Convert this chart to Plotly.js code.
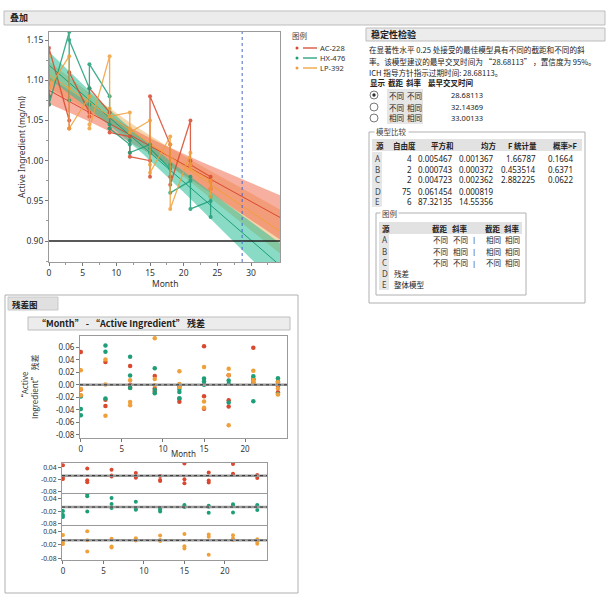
<!DOCTYPE html>
<html><head><meta charset="utf-8">
<script src="https://cdn.plot.ly/plotly-3.0.1.min.js"></script>
<style>body{margin:0;background:#fff}#c{width:608px;height:594px}</style>
</head><body><div id="c"></div>
<script>
// ---------- data ----------
const months = [0,0,0,3,3,3,6,6,6,9,9,9,12,12,12,15,15,15,18,18,18,21,21,21,24,24,24];
const batchNames = ['AC-228','HX-476','LP-392'];
const ac228 = [1.08,1.07,1.14, 1.05,1.04,1.11, 1.06,1.055,1.09, 1.06,1.04,1.035, 1.03,1.01,1.005, 1.00,0.98,1.08, 1.02,0.98,0.97, 1.05,1.00,0.995, 0.98,0.975,0.965];
const hx476 = [1.10,1.08,1.07, 1.16,1.075,1.15, 1.09,1.07,1.12, 1.08,1.045,1.04, 1.02,1.025,1.01, 1.02,1.01,1.015, 0.99,0.995,0.96, 0.975,0.98,0.94, 0.95,0.955,0.93];
const lp392 = [1.13,1.10,1.09, 1.13,1.09,1.04, 1.08,1.045,1.04, 1.13,1.065,1.055, 1.06,1.04,1.035, 1.05,0.995,0.985, 1.03,1.02,0.94, 1.01,0.995,0.99, 0.975,0.965,0.955];
const specLimit = 0.90;
const crossTime = 28.68113;
const stabShow = [true,false,false];
const stabIntercept = ['不同','不同','相同'];
const stabSlope = ['不同','相同','相同'];
const stabTime = ['28.68113','32.14369','33.00133'];
const modelSrc = ['A','B','C','D','E'];
const modelDF = ['4','2','2','75','6'];
const modelSS = ['0.005467','0.000743','0.004723','0.061454','87.32135'];
const modelMS = ['0.001367','0.000372','0.002362','0.000819','14.55356'];
const modelF = ['1.66787','0.453514','2.882225','',''];
const modelP = ['0.1664','0.6371','0.0622','',''];
const legSrc = ['A','B','C','D','E'];
const legRows = [['不同','不同','相同','相同'],['不同','相同','相同','相同'],['不同','不同','不同','相同'],[],[]];
const legLabel = ['','','','残差','整体模型'];

// ---------- helpers ----------
const W=608,H=594;
const colors=['#D9482F','#1E9E78','#F0A03A'];
const bandCols=['rgba(240,110,80,0.55)','rgba(40,190,150,0.55)','rgba(235,165,70,0.45)'];
const FONT='Noto Sans, Noto Sans CJK SC, sans-serif';
const CJK='Noto Sans CJK SC, Noto Sans, sans-serif';
const px=x=>x/W, py=y=>1-y/H;
const ann=[], shp=[];
function T(x,y,text,o={}){ann.push({xref:'paper',yref:'paper',x:px(x),y:py(y),text,showarrow:false,
  xanchor:o.a||'left',yanchor:'middle',textangle:o.r||0,bgcolor:o.bg,borderpad:o.bp==null?0:o.bp,
  font:{size:o.s||8,color:o.c||'#222',family:o.f||CJK,weight:o.b?'bold':'normal'}});}
function R(x0,y0,x1,y1,fill,line,lw){shp.push({type:'rect',xref:'paper',yref:'paper',x0:px(x0),x1:px(x1),y0:py(y1),y1:py(y0),
  fillcolor:fill||'rgba(0,0,0,0)',line:{color:line||'rgba(0,0,0,0)',width:lw==null?1:lw},layer:'below'});}

// ---------- regression ----------
const data=[ac228,hx476,lp392];
const fits=data.map(ys=>{const n=ys.length;const xb=months.reduce((a,b)=>a+b,0)/n;const yb=ys.reduce((a,b)=>a+b,0)/n;
  let sxx=0,sxy=0;months.forEach((x,i)=>{sxx+=(x-xb)**2;sxy+=(x-xb)*(ys[i]-yb);});
  const b1=sxy/sxx,b0=yb-b1*xb;const res=ys.map((y,i)=>y-(b0+b1*months[i]));return {n,xb,sxx,b0,b1,res};});
let sse=0,N=0;fits.forEach(f=>{f.res.forEach(r=>sse+=r*r);N+=f.n;});
const mse=sse/(N-6);const tq=1.6654;
const XMAX=34.3;
const traces=[];
const grid=[];for(let x=0;x<=XMAX+1e-9;x+=0.5)grid.push(x);if(grid[grid.length-1]<XMAX)grid.push(XMAX);
[2,0,1].forEach(k=>{const f=fits[k];
  const up=grid.map(x=>f.b0+f.b1*x+tq*Math.sqrt(mse*(1/f.n+(x-f.xb)**2/f.sxx)));
  const lo=grid.map(x=>f.b0+f.b1*x-tq*Math.sqrt(mse*(1/f.n+(x-f.xb)**2/f.sxx)));
  traces.push({x:grid.concat(grid.slice().reverse()),y:up.concat(lo.slice().reverse()),fill:'toself',fillcolor:bandCols[k],
    line:{width:0},mode:'lines',hoverinfo:'skip',showlegend:false,xaxis:'x',yaxis:'y'});});
[0,1,2].forEach(k=>{const f=fits[k];
  traces.push({x:[0,XMAX],y:[f.b0,f.b0+f.b1*XMAX],mode:'lines',line:{color:colors[k],width:1},showlegend:false,xaxis:'x',yaxis:'y'});});
[0,1,2].forEach(k=>{
  traces.push({x:months,y:data[k],mode:'lines+markers',line:{color:colors[k],width:1.3},opacity:0.85,
    marker:{color:colors[k],size:4},showlegend:false,xaxis:'x',yaxis:'y'});});
// residual plot (all)
[0,1,2].forEach(k=>{
  traces.push({x:months,y:fits[k].res,mode:'markers',marker:{color:colors[k],size:4.5},showlegend:false,xaxis:'x2',yaxis:'y2'});});
// residual by batch
[0,1,2].forEach(k=>{
  traces.push({x:months,y:fits[k].res,mode:'markers',marker:{color:colors[k],size:4},showlegend:false,xaxis:'x'+(k+3),yaxis:'y'+(k+3)});});

// ---------- shapes ----------
shp.push({type:'line',xref:'x domain',yref:'y',x0:0,x1:1,y0:specLimit,y1:specLimit,line:{color:'#222',width:1.5}});
shp.push({type:'line',xref:'x',yref:'y domain',x0:crossTime,x1:crossTime,y0:0,y1:1,line:{color:'#4a68c8',width:1,dash:'dot'}});
shp.push({type:'line',xref:'x2 domain',yref:'y2',x0:0,x1:1,y0:0,y1:0,line:{color:'#9a9a9a',width:2.5}});
shp.push({type:'line',xref:'x2 domain',yref:'y2',x0:0,x1:1,y0:0,y1:0,line:{color:'#333',width:1,dash:'dot'}});
[3,4,5].forEach(k=>{
  shp.push({type:'line',xref:'x'+k+' domain',yref:'y'+k,x0:0,x1:1,y0:0,y1:0,line:{color:'#9a9a9a',width:2.5}});
  shp.push({type:'line',xref:'x'+k+' domain',yref:'y'+k,x0:0,x1:1,y0:0,y1:0,line:{color:'#333',width:1,dash:'dot'}});});

// headers / frames
R(4,11,605,25,'#ececec','#bdbdbd',1); T(9,18,'叠加',{b:true,s:9});
// legend
T(291,35,'图例',{s:7.5,c:'#444'});
batchNames.forEach((nm,k)=>{const y=[48,58,68][k];
  shp.push({type:'circle',xref:'paper',yref:'paper',x0:px(295.5),x1:px(298.5),y0:py(y+1.5),y1:py(y-1.5),fillcolor:colors[k],line:{width:0}});
  shp.push({type:'line',xref:'paper',yref:'paper',x0:px(303),x1:px(317),y0:py(y),y1:py(y),line:{color:colors[k],width:1.3}});
  T(319,y,nm,{s:7.5,f:FONT,c:'#333'});});
// stability panel
R(366,28,605,41,'#ececec','#bdbdbd',1); T(370,34.5,'稳定性检验',{b:true,s:9});
T(368,49,'在显著性水平 0.25 处接受的最佳模型具有不同的截距和不同的斜',{s:7.6});
T(368,61,'率。该模型建议的最早交叉时间为 “28.68113” ，置信度为 95%。',{s:7.6});
T(368,72,'ICH 指导方针指示过期时间: 28.68113。',{s:7.6});
R(387,89,423,124,'#e6e6e6');
T(369,83,'显示',{b:true,s:7.5}); T(396,83,'截距',{b:true,s:7.5,a:'center'}); T(414,83,'斜率',{b:true,s:7.5,a:'center'}); T(427,83,'最早交叉时间',{b:true,s:7.5});
stabTime.forEach((v,i)=>{const y=[95,107,118][i];
  shp.push({type:'circle',xref:'paper',yref:'paper',x0:px(370),x1:px(378),y0:py(y+4),y1:py(y-4),line:{color:'#555',width:0.8},fillcolor:'#fff'});
  if(stabShow[i])shp.push({type:'circle',xref:'paper',yref:'paper',x0:px(372.3),x1:px(375.7),y0:py(y+1.7),y1:py(y-1.7),line:{width:0},fillcolor:'#333'});
  T(396,y,stabIntercept[i],{s:7.5,a:'center'}); T(414,y,stabSlope[i],{s:7.5,a:'center'}); T(484,y,v,{s:7.5,a:'right',f:FONT});});
// model comparison
R(369,132,585,303,null,'#b0b0b0',1);
T(374,131,'模型比较',{s:7.5,bg:'#fff',bp:1,c:'#444'});
R(372,139,582,151,'#e2e2e2'); R(372,152,382,207,'#e6e6e6');
T(375,145,'源',{b:true,s:7.5}); T(392,145,'自由度',{b:true,s:7.5}); T(430,145,'平方和',{b:true,s:7.5});
T(480,145,'均方',{b:true,s:7.5}); T(507,145,'F 统计量',{b:true,s:7.5}); T(552,145,'概率>F',{b:true,s:7.5});
modelSrc.forEach((s,i)=>{const y=[158,169,180,191,201][i];
  T(374,y,s,{s:8,f:FONT,c:'#444'}); T(413,y,modelDF[i],{s:8,a:'right',f:FONT}); T(454,y,modelSS[i],{s:8,a:'right',f:FONT});
  T(495,y,modelMS[i],{s:8,a:'right',f:FONT}); T(537,y,modelF[i],{s:8,a:'right',f:FONT}); T(574,y,modelP[i],{s:8,a:'right',f:FONT});});
R(376,213,526,295,null,'#b0b0b0',1);
T(380,213,'图例',{s:7.5,bg:'#fff',bp:1,c:'#444'});
R(379,222,522,234,'#e2e2e2'); R(379,234,389,290,'#e6e6e6');
T(381,228,'源',{b:true,s:7.5}); T(440,228,'截距',{b:true,s:7.5,a:'center'}); T(460,228,'斜率',{b:true,s:7.5,a:'center'});
T(493,228,'截距',{b:true,s:7.5,a:'center'}); T(512,228,'斜率',{b:true,s:7.5,a:'center'});
legSrc.forEach((s,i)=>{const y=[239,251,263,273,284][i];
  T(381,y,s,{s:8,f:FONT,c:'#444'});
  const r=legRows[i];
  if(r.length){T(440,y,r[0],{s:7.5,a:'center'});T(460,y,r[1],{s:7.5,a:'center'});T(474,y,'|',{s:7.5,a:'center',f:FONT});
    T(493,y,r[2],{s:7.5,a:'center'});T(512,y,r[3],{s:7.5,a:'center'});}
  if(legLabel[i])T(393,y,legLabel[i],{s:7.5});});
// residual section
R(5,295,298,593,null,'#b0b0b0',1);
R(8,297,58,310,'#e0e0e0','#c8c8c8',1); T(11,303.5,'残差图',{b:true,s:8.5});
R(28,317,290,330,'#ececec','#bdbdbd',1); T(36,323.5,'“Month” - “Active Ingredient” 残差',{b:true,s:9,f:CJK});

// axis titles as annotations
T(21,147,'Active Ingredient (mg/ml)',{r:-90,a:'center',s:8.5,f:FONT,c:'#333'});
T(165,283,'Month',{a:'center',s:8.5,f:FONT,c:'#333'});
T(29,387,'“Active<br>Ingredient” 残差',{r:-90,a:'center',s:8,c:'#333'});
T(183,453,'Month',{a:'center',s:8,f:FONT,c:'#333'});

// ---------- axes ----------
const ax={showline:true,mirror:true,linecolor:'#9a9a9a',linewidth:1,ticks:'outside',ticklen:3,tickcolor:'#777',
  showgrid:false,zeroline:false,tickfont:{size:8.5,family:FONT,color:'#333'}};
const resTicks=[-0.08,-0.06,-0.04,-0.02,0,0.02,0.04,0.06];
const fmt=v=>(v<0?'-':'')+Math.abs(v).toFixed(2);
const panelTicks=[0.04,-0.02,-0.08];
const layout={width:W,height:H,margin:{l:0,r:0,t:0,b:0},paper_bgcolor:'#fff',plot_bgcolor:'#fff',showlegend:false,
  xaxis:Object.assign({},ax,{domain:[px(49),px(280)],range:[0,XMAX],tickvals:[0,5,10,15,20,25,30],minor:{ticks:'outside',ticklen:2,dtick:2.5,tickcolor:'#999'},anchor:'y'}),
  yaxis:Object.assign({},ax,{domain:[py(262),py(32)],range:[0.874,1.16],tickvals:[0.90,0.95,1.00,1.05,1.10,1.15],tickformat:'.2f',minor:{ticks:'outside',ticklen:2,dtick:0.025,tickcolor:'#999'},anchor:'x'}),
  xaxis2:Object.assign({},ax,{domain:[px(80),px(287)],range:[-0.1,25.1],tickvals:[0,5,10,15,20],anchor:'y2',tickfont:{size:8,family:FONT,color:'#333'}}),
  yaxis2:Object.assign({},ax,{domain:[py(438),py(336)],range:[-0.085,0.078],tickvals:resTicks,ticktext:resTicks.map(fmt),anchor:'x2',tickfont:{size:8,family:FONT,color:'#333'}}),
  annotations:ann,shapes:shp};
const pd=[[463,493],[494,525],[526,560]];
[3,4,5].forEach((k,i)=>{
  layout['xaxis'+k]=Object.assign({},ax,{domain:[px(62),px(267)],range:[-0.12,25.2],tickvals:[0,5,10,15,20],showticklabels:k===5,ticks:k===5?'outside':'',anchor:'y'+k,tickfont:{size:8,family:FONT,color:'#333'}});
  layout['yaxis'+k]=Object.assign({},ax,{domain:[py(pd[i][1]),py(pd[i][0])],range:[-0.088,0.064],tickvals:panelTicks,ticktext:panelTicks.map(fmt),anchor:'x'+k,tickfont:{size:6.8,family:FONT,color:'#333'}});});
Plotly.newPlot('c',traces,layout,{displayModeBar:false,staticPlot:true});
</script></body></html>
